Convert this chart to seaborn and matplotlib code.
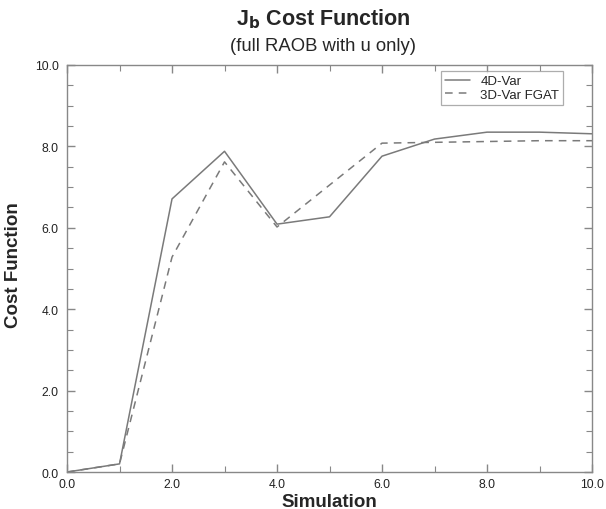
import matplotlib
matplotlib.use("Agg")
import matplotlib.pyplot as plt
from matplotlib.ticker import MultipleLocator, FormatStrFormatter
import seaborn as sns
import pandas as pd

simulation = [0, 1, 2, 3, 4, 5, 6, 7, 8, 9, 10]
cost_4dvar = [0.0, 0.2, 6.71, 7.88, 6.09, 6.27, 7.76, 8.18, 8.35, 8.35, 8.31]
cost_3dvar_fgat = [0.0, 0.2, 5.28, 7.62, 6.02, 7.05, 8.08, 8.10, 8.12, 8.14, 8.14]
series_names = ["4D-Var", "3D-Var FGAT"]

df = pd.concat([
    pd.DataFrame({"Simulation": simulation, "Cost": cost_4dvar, "Scheme": series_names[0]}),
    pd.DataFrame({"Simulation": simulation, "Cost": cost_3dvar_fgat, "Scheme": series_names[1]}),
])

sns.set_style("ticks")
plt.rcParams["font.family"] = ["Liberation Sans", "DejaVu Sans"]

fig = plt.figure(figsize=(6.06, 5.10), dpi=100)
ax = fig.add_axes([0.1106, 0.0725, 0.8663, 0.7981])

sns.lineplot(
    data=df, x="Simulation", y="Cost", hue="Scheme", style="Scheme",
    palette={series_names[0]: "#7a7a7a", series_names[1]: "#7a7a7a"},
    dashes={series_names[0]: "", series_names[1]: (5, 4)},
    linewidth=1.1, ax=ax, legend=True,
)

ax.set_xlim(0, 10)
ax.set_ylim(0, 10)
ax.xaxis.set_major_locator(MultipleLocator(2))
ax.xaxis.set_minor_locator(MultipleLocator(1))
ax.yaxis.set_major_locator(MultipleLocator(2))
ax.yaxis.set_minor_locator(MultipleLocator(0.5))
ax.xaxis.set_major_formatter(FormatStrFormatter("%.1f"))
ax.yaxis.set_major_formatter(FormatStrFormatter("%.1f"))
ax.tick_params(which="both", direction="in", top=True, right=True,
               color="#888888", labelsize=8.7, labelcolor="#222222")
ax.tick_params(which="major", length=6, width=1)
ax.tick_params(which="minor", length=4, width=0.8)
ax.tick_params(axis="x", pad=4)
ax.tick_params(axis="y", pad=6)
for s in ax.spines.values():
    s.set_visible(True)
    s.set_color("#888888")
    s.set_linewidth(1.0)

ax.set_xlabel("Simulation", fontsize=13.5, fontweight="bold")
ax.set_ylabel("Cost Function", fontsize=13.5, fontweight="bold")
ax.xaxis.set_label_coords(0.5, -0.052)
ax.yaxis.set_label_coords(-0.086, 0.51)

leg = ax.legend(loc="upper right", bbox_to_anchor=(0.945, 0.985), frameon=True,
                fancybox=False, fontsize=9.5, handlelength=1.9,
                handletextpad=0.75, borderpad=0.3, labelspacing=0.1,
                borderaxespad=0.0)
leg.get_frame().set_edgecolor("#999999")
leg.get_frame().set_linewidth(0.9)

fig.text(0.533, 0.962, r"J$_\mathbf{b}$ Cost Function", ha="center", va="center",
         fontsize=15.5, fontweight="bold")
fig.text(0.533, 0.909, "(full RAOB with u only)", ha="center", va="center",
         fontsize=13.3)

fig.savefig("out.png", dpi=100)
